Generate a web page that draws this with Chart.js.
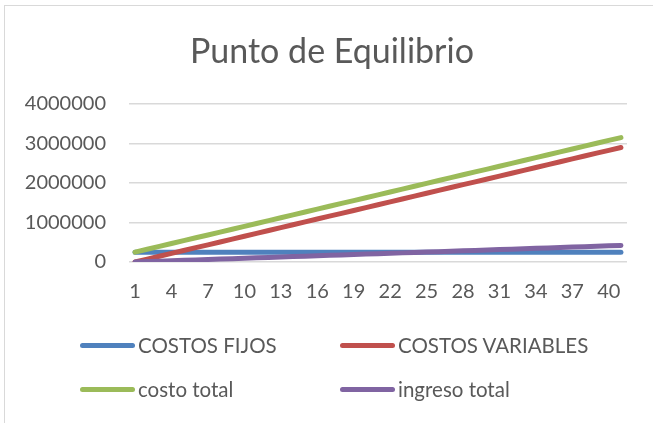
<!DOCTYPE html>
<html>
<head>
<meta charset="utf-8">
<script src="https://cdn.jsdelivr.net/npm/chart.js@4"></script>
<style>
  body { margin: 0; background: #fff; }
  #marco {
    position: absolute; left: 4px; top: 5px; width: 700px; height: 500px;
    border-left: 1.5px solid #d9d9d9; border-top: 1.5px solid #d9d9d9;
  }
  #grafico { position: absolute; left: 0; top: 0; }
  #titulo {
    position: absolute; left: 0; top: 30px; width: 664px; text-align: center;
    font-family: Lato, sans-serif; font-size: 34px; line-height: 40px; color: #595959;
  }
  .leyenda { position: absolute; font-family: Lato, sans-serif; font-size: 20.5px; color: #595959; white-space: nowrap; }
  .leyenda span.linea { position: absolute; left: 0; top: 50%; width: 55px; height: 5px; margin-top: -2.5px; border-radius: 3px; }
  .leyenda span.texto { position: absolute; left: 58px; top: 0; line-height: 24px; }
</style>
</head>
<body>
<div id="marco"></div>
<canvas id="grafico" width="653" height="423"></canvas>
<div id="titulo">Punto de Equilibrio</div>
<div id="leyenda"></div>
<script>
// Datos
const unidades = [1,2,3,4,5,6,7,8,9,10,11,12,13,14,15,16,17,18,19,20,21,22,23,24,25,26,27,28,29,30,31,32,33,34,35,36,37,38,39,40,41];
const costosFijos = [250000,250000,250000,250000,250000,250000,250000,250000,250000,250000,250000,250000,250000,250000,250000,250000,250000,250000,250000,250000,250000,250000,250000,250000,250000,250000,250000,250000,250000,250000,250000,250000,250000,250000,250000,250000,250000,250000,250000,250000,250000];
const costosVariables = [0,72500,145000,217500,290000,362500,435000,507500,580000,652500,725000,797500,870000,942500,1015000,1087500,1160000,1232500,1305000,1377500,1450000,1522500,1595000,1667500,1740000,1812500,1885000,1957500,2030000,2102500,2175000,2247500,2320000,2392500,2465000,2537500,2610000,2682500,2755000,2827500,2900000];
const costoTotal = [250000,322500,395000,467500,540000,612500,685000,757500,830000,902500,975000,1047500,1120000,1192500,1265000,1337500,1410000,1482500,1555000,1627500,1700000,1772500,1845000,1917500,1990000,2062500,2135000,2207500,2280000,2352500,2425000,2497500,2570000,2642500,2715000,2787500,2860000,2932500,3005000,3077500,3150000];
const ingresoTotal = [0,10500,21000,31500,42000,52500,63000,73500,84000,94500,105000,115500,126000,136500,147000,157500,168000,178500,189000,199500,210000,220500,231000,241500,252000,262500,273000,283500,294000,304500,315000,325500,336000,346500,357000,367500,378000,388500,399000,409500,420000];
const ticksY = [0, 1000000, 2000000, 3000000, 4000000];

const colores = ["#4f81bd", "#c0504d", "#9bbb59", "#8064a2"];

function serie(nombre, datos, color, orden) {
    return {
        label: nombre,
        data: datos,
        borderColor: color,
        backgroundColor: color,
        borderWidth: 5,
        borderCapStyle: "round",
        borderJoinStyle: "round",
        pointRadius: 0,
        tension: 0,
        fill: false,
        order: orden
    };
}

const ctx = document.getElementById("grafico").getContext("2d");
const grafico = new Chart(ctx, {
    type: "line",
    data: {
        labels: unidades,
        datasets: [
            serie("COSTOS FIJOS", costosFijos, colores[0], 3),
            serie("COSTOS VARIABLES", costosVariables, colores[1], 2),
            serie("costo total", costoTotal, colores[2], 1),
            serie("ingreso total", ingresoTotal, colores[3], 0)
        ]
    },
    options: {
        responsive: false,
        animation: false,
        layout: { padding: { left: 5, right: 26, top: 104, bottom: 121 } },
        plugins: {
            legend: { display: false },
            tooltip: { enabled: false },
            title: { display: false }
        },
        scales: {
            x: {
                offset: true,
                grid: { display: false, drawTicks: false },
                border: { display: false },
                afterFit: s => { s.height = 40; },
                ticks: {
                    autoSkip: false,
                    maxRotation: 0,
                    padding: 18,
                    color: "#595959",
                    font: { family: "Lato", size: 20 },
                    callback: function (v, i) { return i % 3 === 0 ? this.getLabelForValue(v) : ""; }
                }
            },
            y: {
                min: 0,
                max: 4000000,
                afterFit: s => { s.width = 124; },
                afterBuildTicks: s => { s.ticks = ticksY.map(v => ({ value: v })); },
                grid: { color: "#d9d9d9", lineWidth: 1.5, drawTicks: false },
                border: { display: false },
                ticks: {
                    padding: 23,
                    color: "#595959",
                    font: { family: "Lato", size: 20 },
                    callback: v => String(v)
                }
            }
        }
    }
});

// Leyenda en dos columnas, como en el original
const posiciones = [[80, 333], [340, 333], [80, 377], [340, 377]];
const cont = document.getElementById("leyenda");
grafico.data.datasets.forEach((ds, i) => {
    const d = document.createElement("div");
    d.className = "leyenda";
    d.style.left = posiciones[i][0] + "px";
    d.style.top = posiciones[i][1] + "px";
    d.style.width = "250px";
    d.style.height = "24px";
    d.innerHTML = '<span class="linea" style="background:' + ds.borderColor + '"></span><span class="texto">' + ds.label + '</span>';
    cont.appendChild(d);
});
</script>
</body>
</html>
